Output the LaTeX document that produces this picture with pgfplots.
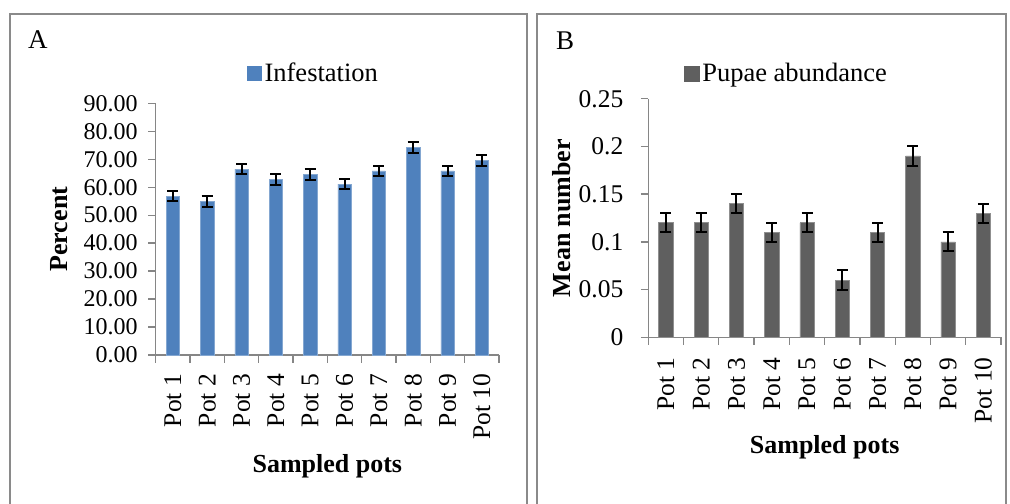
\documentclass[border=0pt]{standalone}
\usepackage{fontspec}
\setmainfont{Liberation Serif}
\usepackage{pgfplots}
\pgfplotsset{compat=1.18}
\definecolor{infblue}{HTML}{4F81BD}
\definecolor{pupgray}{HTML}{5F5F5F}
\definecolor{axisgray}{HTML}{868686}
\definecolor{bordergray}{HTML}{8A8A8A}
\newcommand{\fs}[1]{\fontsize{#1}{1.2\dimexpr#1\relax}\selectfont}
\pgfplotsset{
  panel/.style={
    scale only axis,
    xmin=0.5, xmax=10.5,
    ymin=0,
    enlarge x limits=false,
    axis x line*=bottom, axis y line*=left,
    axis line style={draw=axisgray, line width=1.3bp},
    tick style={draw=axisgray, line width=1.3bp},
    tick align=outside,
    major tick length=7.5bp,
    minor tick length=7.5bp,
    xtick={1,...,10},
    minor xtick={0.5,1.5,...,10.5},
    major x tick style={draw=none},
    xticklabels={Pot 1,Pot 2,Pot 3,Pot 4,Pot 5,Pot 6,Pot 7,Pot 8,Pot 9,Pot 10},
    xticklabel style={rotate=90, anchor=east, font=\fs{25.5bp}},
    scaled y ticks=false,
    /pgf/number format/assume math mode=true,
    legend style={draw=none, fill=none, inner sep=0pt, anchor=west,
      font=\fs{26.5bp}, nodes={inner xsep=2.5bp, inner ysep=0pt}},
    legend cell align=left,
    ybar,
    error bars/y dir=both,
    error bars/y explicit,
    error bars/error bar style={line width=2bp, black},
    error bars/error mark options={rotate=90, mark size=5.5bp, line width=2bp, black},
  }
}
\begin{document}
\begin{tikzpicture}
\path[use as bounding box] (0,0) rectangle (1010bp,-504bp);
\draw[bordergray, line width=1.5bp] (10bp,-14bp) rectangle (527bp,-530bp);
\draw[bordergray, line width=1.5bp] (537bp,-14bp) rectangle (1006bp,-530bp);
\node[anchor=base west, inner sep=0pt, font=\fs{27bp}] at (28bp,-48bp) {A};
\node[anchor=base west, inner sep=0pt, font=\fs{27bp}] at (556bp,-49bp) {B};

\begin{axis}[panel,
  at={(155.7bp,-355bp)}, anchor=south west,
  width=343.3bp, height=251.7bp,
  ymax=90, ytick={0,10,...,90},
  yticklabel style={font=\fs{24bp}},
  yticklabel shift=7bp,
  xticklabel shift=8bp,
  /pgf/number format/.cd, fixed, fixed zerofill, precision=2, /pgfplots/.cd,
  bar width=13.3bp,
  legend style={at={(0.2668,1.1204)}},
  xlabel={Sampled pots},
  xlabel style={font=\fs{26bp}\bfseries, at={(axis description cs:0.5,-0.44)}, anchor=center},
  ylabel={Percent},
  ylabel style={font=\fs{26bp}\bfseries, at={(axis description cs:-0.2817,0.5)}, anchor=center},
]
\addplot[fill=infblue, draw=infblue!70!white, line width=0.6bp,
  legend image code/.code={\fill[infblue] (0bp,-7bp) rectangle (14bp,7bp);}]
  coordinates {
  (1,56.85) +- (0,1.9)
  (2,54.95) +- (0,1.9)
  (3,66.5) +- (0,1.9)
  (4,62.8) +- (0,1.9)
  (5,64.6) +- (0,1.9)
  (6,61.1) +- (0,1.9)
  (7,65.8) +- (0,1.9)
  (8,74.25) +- (0,1.9)
  (9,65.8) +- (0,1.9)
  (10,69.5) +- (0,1.9)
};
\addlegendentry{Infestation}
\end{axis}

\begin{axis}[panel,
  at={(648.3bp,-337.3bp)}, anchor=south west,
  width=352.7bp, height=238.6bp,
  ymax=0.25, ytick={0,0.05,0.1,0.15,0.2,0.25},
  yticklabels={0,0.05,0.1,0.15,0.2,0.25},
  yticklabel style={font=\fs{25.5bp}},
  yticklabel shift=14bp,
  xticklabel shift=9bp,
  bar width=14.3bp,
  legend style={at={(0.1012,1.1056)}},
  xlabel={Sampled pots},
  xlabel style={font=\fs{26bp}\bfseries, at={(axis description cs:0.5,-0.46)}, anchor=center},
  ylabel={Mean number},
  ylabel style={font=\fs{26bp}\bfseries, at={(axis description cs:-0.2447,0.5)}, anchor=center},
]
\addplot[fill=pupgray, draw=pupgray!70!white, line width=0.6bp,
  legend image code/.code={\fill[pupgray] (0bp,-7.5bp) rectangle (15bp,7.5bp);}]
  coordinates {
  (1,0.12) +- (0,0.01)
  (2,0.12) +- (0,0.01)
  (3,0.14) +- (0,0.01)
  (4,0.11) +- (0,0.01)
  (5,0.12) +- (0,0.01)
  (6,0.06) +- (0,0.01)
  (7,0.11) +- (0,0.01)
  (8,0.19) +- (0,0.01)
  (9,0.10) +- (0,0.01)
  (10,0.13) +- (0,0.01)
};
\addlegendentry{Pupae abundance}
\end{axis}
\end{tikzpicture}
\end{document}
